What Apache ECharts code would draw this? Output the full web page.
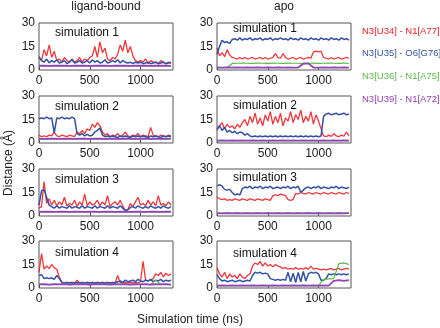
<!DOCTYPE html>
<html>
<head>
<meta charset="utf-8">
<script src="https://cdn.jsdelivr.net/npm/echarts@6/dist/echarts.min.js"></script>
<style>
  html, body { margin: 0; padding: 0; background: #fff; }
  #chart { width: 440px; height: 328px; }
</style>
</head>
<body>
<div id="chart"></div>
<script>
// sampling times (ns)
var times25 = [0,25,50,75,100,125,150,175,200,225,250,275,300,325,350,375,400,425,450,475,500,525,550,575,600,625,650,675,700,725,750,775,800,825,850,875,900,925,950,975,1000,1025,1050,1075,1100,1125,1150,1175,1200,1225,1250,1275,1300]
var times50 = [0,50,100,150,200,250,300,350,400,450,500,550,600,650,700,750,800,850,900,950,1000,1050,1100,1150,1200,1250,1300]

var pairNames = ['N3[U34] - N1[A77]', 'N3[U35] - O6[G76]', 'N3[U36] - N1[A75]', 'N3[U39] - N1[A72]']
var pairColors = ['#ee2227', '#3452a4', '#5bb947', '#9144b3']
var columnTitles = ['ligand-bound', 'apo']
var simLabels = ['simulation 1', 'simulation 2', 'simulation 3', 'simulation 4']
var yTicks = [0, 15, 30]
var xTicks = [0, 500, 1000]

// ligand-bound, distances in angstrom
var lig1Red = [8,6,13,9,16,8,12,6,7,5,8,6,5,7,5,6,8,5,7,6,8,9,15,8,18,11,14,7,6,8,7,10,16,12,19,11,15,9,6,5,6,5,7,4,6,5,5,4,6,5,4,5,4]
var lig1Blue = [8.5,6,5,7,4.5,6,5,6.5,4.5,5,6,4,5,6.5,4.5,5,6,4.5,5,6,4.5,6.5,5,6,4.5,5,6.5,4.5,5,6,5,6.5,4.5,6,5,4.5,5,4,5,4.5,5,4,4.5,5,4,4.5,5,4,4.5,5,4,4.5,5]
var lig1Green = [2.7,2.8,2.6,2.8,2.7,2.8,2.6,2.8,2.7,2.8,2.6,2.8,2.7,2.8,2.6,2.8,2.7,2.8,2.6,2.8,2.7,2.8,2.6,2.8,2.7,2.8,2.6]
var lig1Purple = [2.7,2.8,2.6,2.8,2.7,2.8,2.6,2.8,2.7,2.8,2.6,2.8,2.7,2.8,2.6,2.8,2.7,2.8,2.6,2.8,2.7,2.8,2.6,2.8,2.7,2.8,2.6]

var lig2Red = [5,4,4.5,4,5,4.5,7,4.5,4,5,4.5,4,5,4.5,4,7,6,8,6,9,8,12,10,13,11,7,5,6,4,5,4.5,6,4,5,7,4.5,4,5,4.5,6,4,5,4.5,4,10,5,4.5,4,5,4.5,4,5,4.5]
var lig2Blue = [15.5,16,15.5,16.5,15.5,16,6.5,16,15.5,16.5,15.5,16,15.5,16.5,15.5,6,5,6,4.5,5.5,4.5,5,7,8,9.5,5,4,4.5,4,4.5,4,3.5,4.5,4,4.5,4,3.5,4.5,4,4.5,4,4.5,4,3.5,4.5,4,4.5,4,3.5,4.5,4,4.5,4]
var lig2Green = [2.7,2.6,2.8,2.7,2.6,2.8,2.7,2.6,2.8,2.7,2.6,2.8,2.7,2.6,2.8,2.7,2.6,2.8,2.7,2.6,2.8,2.7,2.6,2.8,2.7,2.6,2.8]
var lig2Purple = [2.7,2.6,2.8,2.7,2.6,2.8,2.7,2.6,2.8,2.7,2.6,2.8,2.7,2.6,2.8,2.7,2.6,2.8,2.7,2.6,2.8,2.7,2.6,2.8,2.7,2.6,2.8]

var lig3Red = [5,6,22,8,11,7,10,6.5,9,7,12,6.5,8,7,10,6,9,7,14,6.5,9,7,8,10,6.5,9,7,13,6,8,9,7,10,6.5,3.5,4,8,6,9,12,7,8,6.5,10,7,9,6.5,13,7,8,6.5,9,7]
var lig3Blue = [7,16,17,12,7,6,5,6.5,5,6,5.5,5,6.5,5,6,5.5,5,6.5,5,6,5.5,5,6.5,5,6,5.5,5,6.5,5,6,5.5,5,6.5,5,3.5,4,5.5,6,5,6.5,5.5,5,6,5,6.5,5.5,5,6,5,6.5,5.5,5,6]
var lig3Green = [2.6,2.8,2.7,2.6,2.8,2.7,2.6,2.8,2.7,2.6,2.8,2.7,2.6,2.8,2.7,2.6,2.8,2.7,2.6,2.8,2.7,2.6,2.8,2.7,2.6,2.8,2.7]
var lig3Purple = [2.6,2.8,2.7,2.6,2.8,2.7,2.6,2.8,2.7,2.6,2.8,2.7,2.6,2.8,2.7,2.6,2.8,2.7,2.6,2.8,2.7,2.6,2.8,2.7,2.6,2.8,2.7]

var lig4Red = [10,22,12,14,12.5,15,13,12,7,3.5,3.3,3.5,3.3,3.5,3.3,5,3.3,3.5,3.3,3.5,3.3,3.5,3.3,3.5,3.3,3.5,3.3,3.5,3.3,3.5,3.3,8,3.5,3.3,3.5,3.3,3.5,3.3,3.5,3.3,4,17,5,4.5,5,6,9,8,10,7,9.5,8,9]
var lig4Blue = [8,8.5,6,6.5,6,6.5,5.5,8,6,3.5,3.2,3.5,3.2,3.5,3.2,3.5,3.2,3.5,3.2,3.5,3.2,3.5,3.2,3.5,3.2,3.5,3.2,3.5,3.2,3.5,3.2,4,4.5,3.5,5,4,4.5,5,4,5.5,4.5,4,5,4.5,5.5,4,5,4.5,5.5,4,5,4.5,5]
var lig4Green = [2.3,2.4,2.2,2.4,2.3,2.4,2.2,2.4,2.3,2.4,2.2,2.4,2.3,2.4,2.2,2.4,2.3,2.4,2.2,2.4,2.3,2.4,2.2,5,2.3,2.4,2.2]
var lig4Purple = [2.3,2.4,2.2,2.4,2.3,2.4,2.2,2.4,2.3,2.4,2.2,2.4,2.3,2.4,2.2,2.4,2.3,2.4,2.2,2.4,2.3,2.4,2.2,2.4,2.3,2.4,2.2]

// apo
var apo1Red = [14,9,11,8.5,13,9.5,8,7.5,7,8,7,8,7,7.5,8,7,7.5,8,7,8,7,7.5,8,10.5,8,7.5,10.5,8,7,7.5,8,7,7.5,8,7,7.5,8,7.5,11.5,12,11.5,12,8,7.5,7,8,7,7.5,8,7,7.5,8,7.5]
var apo1Blue = [10,15,19,17.5,18,17,19.5,20,19,20.5,19,20,19.5,20.5,19,20,19.5,20.5,19,20,19.5,20.5,19,20,19.5,20.5,19.5,20,19,20.5,19.5,20,19,20.5,19.5,20,19,20.5,19.5,20,19,20.5,19.5,20,19,20.5,19.5,20,19,20.5,19.5,20,19]
var apo1Green = [1.6,1.5,1.6,4.2,4.3,4.4,4.3,4.2,4.4,4.3,4.2,4.4,4.3,4.2,4.4,4.3,4.3,4.2,4.3,4.4,4.2,4.3,4.4,4.3,4.2,4.4,4.3]
var apo1Purple = [1.6,1.5,1.6,1.5,1.6,1.5,1.6,1.5,1.6,1.5,1.6,1.5,1.6,1.5,1.6,1.5,1.6,4,4.2,1.6,1.5,1.6,1.5,1.6,1.5,1.6,1.5]

var apo2Red = [8,11,13,9,12,10,11,9,12,10,13,15,11,17,13,19,12,16,11,18,14,20,12,17,13,19,11,16,14,20,13,18,15,21,13,17,14,20,12,18,14,9,4.5,4,5,4.2,6,4.5,4,5,4.3,7,4.5]
var apo2Blue = [9,11,8,10,7,8,6.5,7.5,6,7,6.5,5,6,4.5,4,4.5,4,4.5,4,4.5,4,4.5,4,4.5,4,4.5,4,4.5,4,4.5,4,4.5,4,4.5,4,4.5,4,4.5,4,4.5,4,4.5,17,18.5,19,18,18.5,19,18,18.5,19,18,18.5]
var apo2Green = [1.5,1.6,1.5,1.6,1.5,1.6,1.5,1.6,1.5,1.6,1.5,1.6,1.5,1.6,1.5,1.6,1.5,1.6,1.5,1.6,1.5,1.6,1.5,1.6,1.5,1.6,1.5]
var apo2Purple = [1.5,1.6,1.5,1.6,1.5,1.6,1.5,1.6,1.5,1.6,1.5,1.6,1.5,1.6,1.5,1.6,1.5,1.6,1.5,1.6,1.5,1.6,1.5,1.6,1.5,1.6,1.5]

var apo3Red = [12,11,10.5,11,10,10.5,10,11,10.5,10,11,10.5,10,11,10.5,10,11,10.5,10,11,10.5,10,13,13.5,13,14,13.5,13,10.5,10,10.5,14.5,14,15,14.5,14,15,14.5,14,15,14.5,14,15,14.5,14,15,14.5,14,15,14.5,14,15,14.5]
var apo3Blue = [19,20,19,17,16.5,17,15,13.5,14,13.5,17.5,18.5,18,19,17.5,18.5,18,19,17.5,18.5,18,19,17.5,18,18.5,17.5,18.5,18,19,17.5,18.5,18,19,15,16.5,18,18.5,17.5,18.5,18,19,17.5,18.5,18,17.5,18.5,18,19,17.5,18.5,18,17.5,18.5]
var apo3Green = [1.8,1.7,1.8,1.7,1.8,1.7,1.8,1.7,1.8,1.7,1.8,1.7,1.8,1.7,1.8,1.7,1.8,1.7,1.8,1.7,1.8,1.7,1.8,1.7,1.8,1.7,1.8]
var apo3Purple = [1.8,1.7,1.8,1.7,1.8,1.7,1.8,1.7,1.8,1.7,1.8,1.7,1.8,1.7,1.8,1.7,1.8,1.7,1.8,1.7,1.8,1.7,1.8,1.7,1.8,1.7,1.8]

var apo4Red = [13,9,7,10,6,9,7,8,6,9,7,6,8,9,14,16,15,17,14,16,14,15,13.5,15,14,13.5,12.5,13,12,12.5,12,13,12,12.5,12,13,12,14,12,12.5,12,11.5,12,11.5,12,12.5,11.5,12,12.5,11.5,12,12.5,12]
var apo4Blue = [8.5,6,4.5,5,4,4.5,5,4,4.5,5,4,4.5,5,4.5,8,10,9.5,10,9,9.5,9,6,5.5,5,5.5,5,5.5,5,10,4,9.5,3.5,10,4,10.5,4.5,9,10,9.5,10,9,5,5,6,9,8.5,9,8.5,9,8.5,9,8.5,9]
var apo4Green = [1.5,1.6,1.5,1.6,1.5,1.6,1.5,1.6,1.5,1.6,1.5,1.6,1.5,1.6,1.5,1.6,1.5,1.6,1.5,1.6,1.5,5.5,5.8,6,15.5,16,15]
var apo4Purple = [1.5,1.6,1.5,1.6,1.5,1.6,1.5,1.6,1.5,1.6,1.5,1.6,1.5,1.6,1.5,1.6,1.5,1.6,1.5,1.6,1.5,1.6,1.5,4.5,5,4.5,5]

var panels = [
  [lig1Red, lig1Blue, lig1Green, lig1Purple],
  [lig2Red, lig2Blue, lig2Green, lig2Purple],
  [lig3Red, lig3Blue, lig3Green, lig3Purple],
  [lig4Red, lig4Blue, lig4Green, lig4Purple],
  [apo1Red, apo1Blue, apo1Green, apo1Purple],
  [apo2Red, apo2Blue, apo2Green, apo2Purple],
  [apo3Red, apo3Blue, apo3Green, apo3Purple],
  [apo4Red, apo4Blue, apo4Green, apo4Purple]
]

var font = 'Liberation Sans, Arial, sans-serif'
var colLeft = [39, 217]
var rowTop = [23, 96, 169, 241]
var labelY = [[33, 107, 180, 253], [29, 106, 178, 254]]
var lineWidths = [1.3, 1.5, 1.2, 1.8]

function zip(ts, vs) {
  return vs.map(function (v, i) { return [ts[i], v] })
}

var grids = [], xAxes = [], yAxes = [], series = [], graphics = []

panels.forEach(function (lines, p) {
  var col = p < 4 ? 0 : 1
  var row = p % 4
  grids.push({
    left: colLeft[col], top: rowTop[row], width: 134, height: 47,
    show: true, borderColor: '#555', borderWidth: 1
  })
  xAxes.push({
    type: 'value', gridIndex: p, min: 0, max: 1320, interval: 500,
    axisLine: { show: false },
    axisTick: { show: true, inside: true, length: 3, lineStyle: { color: '#555' } },
    axisLabel: {
      fontSize: 12, color: '#1a1a1a', margin: 5, fontFamily: font, showMaxLabel: false,
      formatter: function (v) { return xTicks.indexOf(v) >= 0 ? String(v) : '' }
    },
    splitLine: { show: false }
  })
  yAxes.push({
    type: 'value', gridIndex: p, min: yTicks[0], max: yTicks[2], interval: 15,
    axisLine: { show: false },
    axisTick: { show: false },
    axisLabel: { fontSize: 12, color: '#1a1a1a', margin: 4, fontFamily: font },
    splitLine: { show: false }
  })
  lines.forEach(function (vals, k) {
    series.push({
      name: pairNames[k],
      type: 'line',
      xAxisIndex: p, yAxisIndex: p,
      data: zip(vals.length === times25.length ? times25 : times50, vals),
      showSymbol: false,
      silent: true,
      lineStyle: { color: pairColors[k], width: lineWidths[k], opacity: k === 0 ? 0.9 : 1 },
      z: 2 + k
    })
  })
  graphics.push({
    type: 'text', x: colLeft[col] + 16, y: labelY[col][row],
    style: { text: simLabels[row], align: 'left', verticalAlign: 'middle', fontSize: 12, fontFamily: font, fill: '#111' },
    z: 100
  })
})

columnTitles.forEach(function (t, c) {
  graphics.push({
    type: 'text', x: [106, 284][c], y: 7,
    style: { text: t, align: 'center', verticalAlign: 'middle', fontSize: 12, fontFamily: font, fill: '#222' }
  })
})

pairNames.forEach(function (n, k) {
  graphics.push({
    type: 'text', x: 362, y: [31, 53, 76, 99][k],
    style: { text: n, align: 'left', verticalAlign: 'middle', fontSize: 9.5, fontFamily: font, fill: pairColors[k] }
  })
})

graphics.push({
  type: 'text', x: 9, y: 163, rotation: Math.PI / 2,
  style: { text: 'Distance (Å)', align: 'center', verticalAlign: 'middle', fontSize: 12, fontFamily: font, fill: '#222' }
})
graphics.push({
  type: 'text', x: 190, y: 320,
  style: { text: 'Simulation time (ns)', align: 'center', verticalAlign: 'middle', fontSize: 12, fontFamily: font, fill: '#222' }
})

var chart = echarts.init(document.getElementById('chart'))
chart.setOption({
  animation: false,
  textStyle: { fontFamily: font },
  grid: grids,
  xAxis: xAxes,
  yAxis: yAxes,
  series: series,
  graphic: graphics
})
</script>
</body>
</html>
